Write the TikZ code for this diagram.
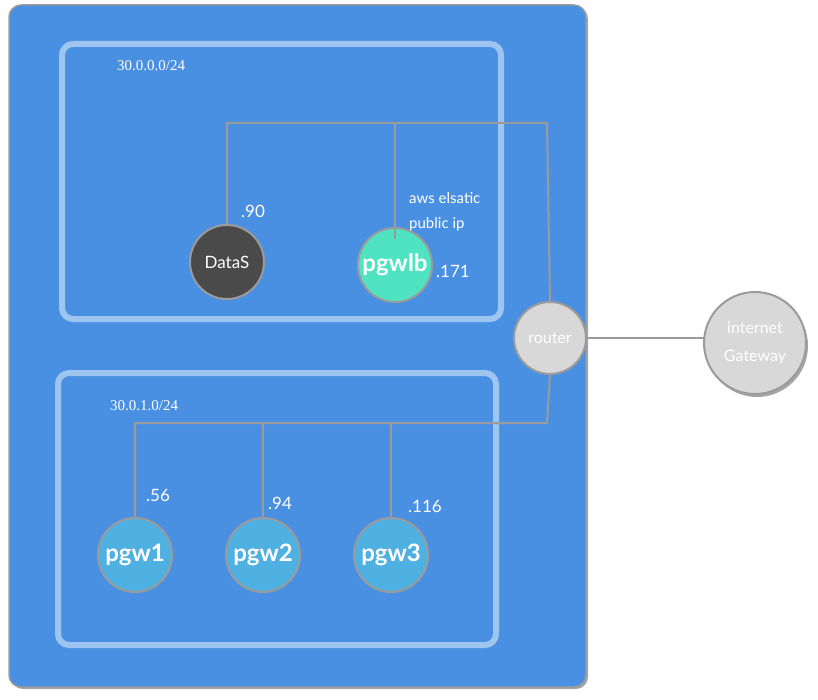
\documentclass[tikz,border=0pt]{standalone}
\usepackage{fontspec}
\setmainfont{Lato}
\newfontfamily\serifnet{Liberation Serif}
\usetikzlibrary{shadows}
\definecolor{vpcblue}{HTML}{4A90E2}
\definecolor{subnetborder}{HTML}{9EC4F0}
\definecolor{linegray}{HTML}{9B9B9B}
\definecolor{darknode}{HTML}{4A4A4A}
\definecolor{tealnode}{HTML}{50E3C2}
\definecolor{pgwnode}{HTML}{4FB0E2}
\definecolor{lightnode}{HTML}{D8D8D8}
\tikzset{
  vpc/.style={draw=linegray, line width=1.5pt, fill=vpcblue, rounded corners=12pt,
    drop shadow={shadow xshift=2pt, shadow yshift=-2pt, opacity=0.35, fill=black}},
  subnet/.style={draw=subnetborder, line width=6pt, rounded corners=11pt},
  netlabel/.style={text=white, font=\serifnet\fontsize{15}{15}\selectfont, anchor=west, inner sep=0pt},
  host/.style={circle, draw=linegray, line width=2pt, minimum size=74pt, inner sep=0pt, text=white},
  conn/.style={draw=linegray, line width=2pt},
  iplabel/.style={text=white, font=\fontsize{17}{17}\selectfont, anchor=west, inner sep=0pt},
  bignm/.style={font=\bfseries\fontsize{24}{24}\selectfont},
  smallnm/.style={font=\fontsize{15}{15}\selectfont},
}
\begin{document}
\begin{tikzpicture}[x=1pt,y=-1pt]
\useasboundingbox (0,0) rectangle (818,700);
\path[vpc] (9,5) rectangle (586,687);
\draw[subnet] (62,44) rectangle (501,319);
\draw[subnet] (58,373) rectangle (496,645);
\node[netlabel] (n1) at (117,66) {30.0.0.0/24};
\node[netlabel] (n2) at (110,406) {30.0.1.0/24};

% wiring coordinates
\coordinate (t1) at (227,123);
\coordinate (t2) at (395,123);
\coordinate (t3) at (547,123);
\coordinate (b0) at (547,423);
\coordinate (b1) at (135,423);
\coordinate (b2) at (263,423);
\coordinate (b3) at (391,423);
\coordinate (gw) at (705,338);

\node[host, fill=darknode, font=\fontsize{17}{17}\selectfont] (datas) at (227,262) {DataS};
\node[host, fill=tealnode, bignm] (pgwlb) at (395,265) {pgwlb};
\node[host, fill=lightnode, minimum size=72pt, font=\fontsize{16}{16}\selectfont] (router) at (550,338) {router};
\node[host, fill=lightnode, minimum size=102pt, font=\fontsize{16}{16}\selectfont, align=center,
  drop shadow={shadow xshift=2pt, shadow yshift=-3pt, opacity=0.35, fill=black}] (igw) at (755,343)
  {internet\\[12pt]Gateway};
\node[host, fill=pgwnode, bignm] (pgw1) at (135,555) {pgw1};
\node[host, fill=pgwnode, bignm] (pgw2) at (263,555) {pgw2};
\node[host, fill=pgwnode, bignm] (pgw3) at (391,555) {pgw3};

\draw[conn] (datas.north) -- (t1) -- (t3) -- (router.north);
\draw[conn] (t2) -- ([yshift=-12pt]pgwlb.north);
\draw[conn] (router.south) -- (b0) -- (b1) -- (pgw1.north);
\draw[conn] (b2) -- (pgw2.north);
\draw[conn] (b3) -- (pgw3.north);
\draw[conn] (router.east) -- (gw);

\node[iplabel] (l90) at (241,211) {.90};
\node[iplabel] (l171) at (436,271) {.171};
\node[iplabel, font=\fontsize{15}{15}\selectfont] (aws) at (409,198) {aws elsatic};
\node[iplabel, font=\fontsize{15}{15}\selectfont] (pub) at (409,224) {public ip};
\node[iplabel] (l56) at (146,495) {.56};
\node[iplabel] (l94) at (268,503) {.94};
\node[iplabel] (l116) at (408,506) {.116};
\end{tikzpicture}
\end{document}
